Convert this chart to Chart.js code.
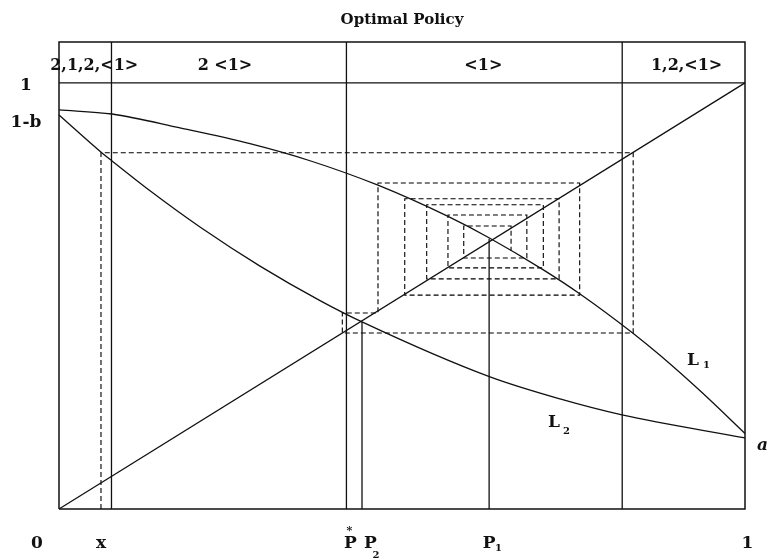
<!DOCTYPE html>
<html>
<head>
<meta charset="utf-8">
<script src="https://cdn.jsdelivr.net/npm/chart.js@4/dist/chart.umd.min.js"></script>
<style>
  html, body { margin: 0; padding: 0; background: #fff; }
  #wrap { width: 768px; height: 560px; }
</style>
</head>
<body>
<div id="wrap"><canvas id="c" width="768" height="560"></canvas></div>
<script>
// Value curve L1 (concave) sampled along p
const l1P = [0, 0.0773, 0.1764, 0.2784, 0.3659, 0.465, 0.5671, 0.6268, 0.7055, 0.7595, 0.8367, 0.8761, 0.9373, 1];
const l1V = [0.9366, 0.927, 0.8944, 0.8574, 0.8173, 0.7599, 0.6866, 0.6366, 0.5617, 0.5045, 0.4124, 0.3606, 0.2732, 0.1772];

// Value curve L2 (convex) sampled along p
const l2P = [0, 0.0627, 0.0773, 0.1327, 0.2055, 0.293, 0.3805, 0.4417, 0.6283, 0.7303, 0.8207, 1];
const l2V = [0.9249, 0.8357, 0.8167, 0.7467, 0.6617, 0.57, 0.489, 0.439, 0.3099, 0.2582, 0.2207, 0.1667];

// Iteration path starting at p = x (dashed)
const webP = [0.0612, 0.0612, 0.837, 0.837, 0.413, 0.413, 0.465, 0.465, 0.759, 0.759, 0.504, 0.504,
              0.729, 0.729, 0.536, 0.536, 0.706, 0.706, 0.567, 0.567, 0.682, 0.682, 0.590, 0.590, 0.659, 0.659];
const webV = [0, 0.836, 0.836, 0.413, 0.413, 0.460, 0.460, 0.765, 0.765, 0.502, 0.502, 0.728,
              0.728, 0.540, 0.540, 0.714, 0.714, 0.566, 0.566, 0.690, 0.690, 0.589, 0.589, 0.664, 0.664, 0.606];

// Policy regions shown in the top band
const regionBounds = [0, 0.0765, 0.419, 0.821, 1];
const regionLabels = ["2,1,2,<1>", "2 <1>", "<1>", "1,2,<1>"];
const bandTop = 1.096;

// Marked points on the p axis
const xStart = 0.0612;
const pStar = 0.419;
const p2 = 0.4417;
const p1 = 0.627;
const p2Height = 0.439;
const p1Height = 0.634;

// Axis labels
const xTickValues = [0, xStart, pStar, p2, p1, 1];
const xTickMain = ["0", "x", "P", "P", "P", "1"];
const xTickSup = ["", "", "*", "", "", ""];
const xTickSub = ["", "", "", "2", "1", ""];
const yTickValues = [1, 0.937];
const yTickLabels = ["1", "1-b"];

// pixel nudges for the hand-set labels
const xTickDx = [-22, 0, 4, 8.5, 0, 2.5];
const yTickDy = [7, 17];
const regionDx = [9, -4, -1, 3];

const pts = (xs, ys) => xs.map((v, i) => ({ x: v, y: ys[i] }));
const seg = (x0, y0, x1, y1) => [{ x: x0, y: y0 }, { x: x1, y: y1 }];

const INK = '#111';
const solid = (data, w) => ({
  data, showLine: true, borderColor: INK, borderWidth: w || 1.3,
  pointRadius: 0, fill: false, clip: false, tension: 0
});

const datasets = [
  // frame
  solid([{ x: 0, y: 0 }, { x: 1, y: 0 }, { x: 1, y: bandTop }, { x: 0, y: bandTop }, { x: 0, y: 0 }], 1.5),
  // band bottom
  solid(seg(0, 1, 1, 1), 1.4),
  // region boundaries (full height)
  solid(seg(regionBounds[1], 0, regionBounds[1], bandTop)),
  solid(seg(regionBounds[2], 0, regionBounds[2], bandTop)),
  solid(seg(regionBounds[3], 0, regionBounds[3], bandTop)),
  // fixed points
  solid(seg(p2, 0, p2, p2Height)),
  solid(seg(p1, 0, p1, p1Height)),
  // 45 degree line
  solid(seg(0, 0, 1, 1)),
  // curves
  Object.assign(solid(pts(l1P, l1V)), { cubicInterpolationMode: 'monotone' }),
  Object.assign(solid(pts(l2P, l2V)), { cubicInterpolationMode: 'monotone' }),
  // iteration path
  {
    data: pts(webP, webV), showLine: true, borderColor: '#000', borderWidth: 1.1,
    borderDash: [5, 3], pointRadius: 0, fill: false, clip: false, tension: 0
  }
];

const FONT = '"DejaVu Serif", "Liberation Serif", serif';

const labelPlugin = {
  id: 'labels',
  afterDatasetsDraw(chart) {
    const { ctx, scales: { x, y } } = chart;
    ctx.save();
    ctx.fillStyle = INK;
    ctx.textBaseline = 'alphabetic';

    // title
    ctx.font = 'bold 15px ' + FONT;
    ctx.textAlign = 'center';
    ctx.fillText('Optimal Policy', (x.left + x.right) / 2, 24);

    // region labels
    ctx.font = 'bold 16px ' + FONT;
    for (let i = 0; i < regionLabels.length; i++) {
      const cx = (x.getPixelForValue(regionBounds[i]) + x.getPixelForValue(regionBounds[i + 1])) / 2;
      ctx.fillText(regionLabels[i], cx + regionDx[i], 70);
    }

    // y labels
    ctx.font = 'bold 17px ' + FONT;
    ctx.textAlign = 'center';
    for (let i = 0; i < yTickValues.length; i++) {
      ctx.fillText(yTickLabels[i], 26, y.getPixelForValue(yTickValues[i]) + yTickDy[i]);
    }

    // x labels
    const base = y.getPixelForValue(0) + 39;
    for (let i = 0; i < xTickValues.length; i++) {
      const cx = x.getPixelForValue(xTickValues[i]) + xTickDx[i];
      ctx.font = 'bold 17px ' + FONT;
      ctx.textAlign = 'center';
      ctx.fillText(xTickMain[i], cx, base);
      if (xTickSup[i]) {
        ctx.font = 'bold 11px ' + FONT;
        ctx.fillText(xTickSup[i], cx - 1, base - 14);
      }
      if (xTickSub[i]) {
        ctx.font = 'bold 10px ' + FONT;
        ctx.textAlign = 'left';
        const dy = xTickSub[i] === '2' ? 10 : 3;
        const dx = xTickSub[i] === '2' ? 2 : 6;
        ctx.fillText(xTickSub[i], cx + dx, base + dy);
      }
    }

    // curve names
    ctx.textAlign = 'left';
    const lx1 = x.getPixelForValue(l1P[12]) - 15, ly1 = y.getPixelForValue(l1V[12]) - 28;
    ctx.font = 'bold 17px ' + FONT;
    ctx.fillText('L', lx1, ly1);
    ctx.font = 'bold 10px ' + FONT;
    ctx.fillText('1', lx1 + 16, ly1 + 3);

    const lx2 = x.getPixelForValue(l2P[9]) - 12, ly2 = y.getPixelForValue(l2V[9]) + 28;
    ctx.font = 'bold 17px ' + FONT;
    ctx.fillText('L', lx2, ly2);
    ctx.font = 'bold 10px ' + FONT;
    ctx.fillText('2', lx2 + 15, ly2 + 7);

    // end value
    ctx.font = 'italic bold 17px ' + FONT;
    ctx.fillText('a', x.getPixelForValue(1) + 12, y.getPixelForValue(l2V[l2V.length - 1]) + 12);

    ctx.restore();
  }
};

new Chart(document.getElementById('c'), {
  type: 'scatter',
  data: { datasets },
  options: {
    responsive: false,
    animation: false,
    devicePixelRatio: 1,
    layout: { padding: { left: 59, right: 23, top: 42, bottom: 51 } },
    plugins: { legend: { display: false }, tooltip: { enabled: false }, title: { display: false } },
    scales: {
      x: { type: 'linear', min: 0, max: 1, display: false },
      y: { type: 'linear', min: 0, max: bandTop, display: false }
    }
  },
  plugins: [labelPlugin]
});
</script>
</body>
</html>
